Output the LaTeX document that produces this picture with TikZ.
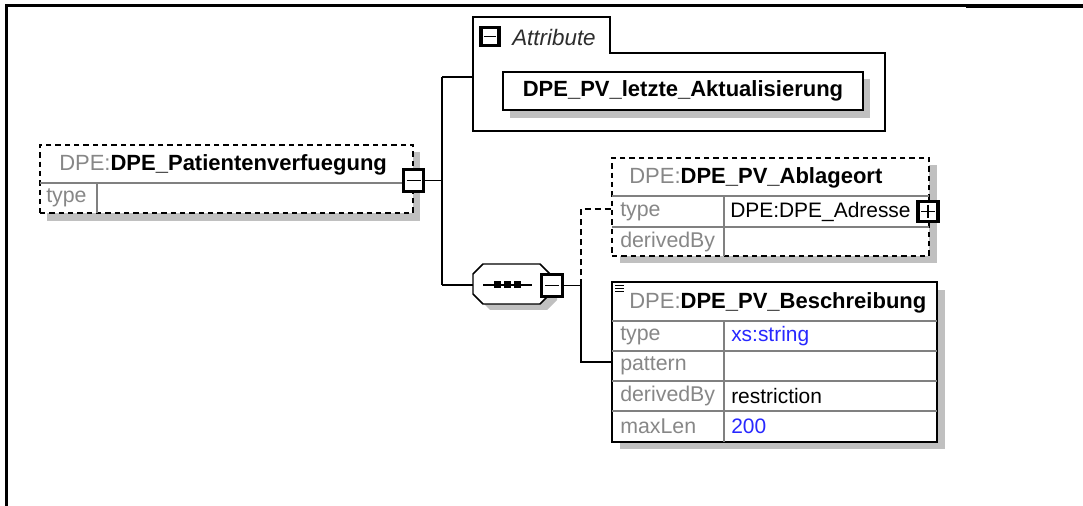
\documentclass[tikz,border=0pt]{standalone}
\usepackage{fontspec}
\setmainfont{Liberation Sans}
\usetikzlibrary{calc}
\definecolor{shadowc}{RGB}{192,192,192}
\definecolor{lblgrey}{RGB}{135,135,135}
\definecolor{sepgrey}{RGB}{128,128,128}
\definecolor{valblue}{RGB}{40,40,255}
\definecolor{attrgrey}{RGB}{45,45,45}
\begin{document}
\begin{tikzpicture}[x=0.75pt,y=-0.75pt,
 box/.style={draw=black,line width=1.1pt,fill=white,inner sep=0pt,outer sep=0pt},
 dbox/.style={box,dash pattern=on 4pt off 3pt},
 sep/.style={draw=sepgrey,line width=1.1pt},
 conn/.style={draw=black,line width=1.4pt},
 dconn/.style={conn,dash pattern=on 4.5pt off 3pt},
 hdr/.style={anchor=west,inner sep=0pt,font=\fontsize{16.5}{19}\selectfont},
 lbl/.style={anchor=west,inner sep=0pt,text=lblgrey,font=\fontsize{16}{19}\selectfont},
 val/.style={anchor=west,inner sep=0pt,font=\fontsize{15.7}{19}\selectfont},
 toggle/.style={draw=black,line width=2.4pt,fill=white,minimum width=15.5pt,minimum height=16.5pt,inner sep=0pt,outer sep=0pt},
 minusbox/.style={toggle,path picture={\draw[line width=1.4pt] ([xshift=2.5pt]path picture bounding box.west) -- ([xshift=-2.5pt]path picture bounding box.east);}},
 plusbox/.style={toggle,path picture={\draw[line width=1.4pt] ([xshift=2.5pt]path picture bounding box.west) -- ([xshift=-2.5pt]path picture bounding box.east);
   \draw[line width=1.4pt] ([yshift=-2.5pt]path picture bounding box.north) -- ([yshift=2.5pt]path picture bounding box.south);}},
]
\useasboundingbox (0,0) rectangle (1083,506);
% frame
\draw[line width=2.25pt] (6.5,506) -- (6.5,6) -- (966,6);
\draw[line width=2.6pt] (966,6) -- (1083,6);

% root element
\fill[shadowc] (47,152) rectangle (420,221);
\node[dbox,minimum width={373*0.75pt},minimum height={68*0.75pt}] (root) at (226.5,179) {};
\draw[sep] (40,183) -- (413,183);
\draw[sep] (97,183) -- (97,213);
\node[hdr] (roott) at (59,165) {\textcolor{lblgrey}{DPE:}\textbf{DPE\_Patientenverfuegung}};
\node[lbl] (roottype) at (46,198) {type};
\node[minusbox] (rootmin) at (413.5,180.5) {};

% attribute group
\draw[line width=1.1pt,fill=white] (473,131) -- (473,17) -- (610,17) -- (610,53) -- (885,53) -- (885,131) -- cycle;
\node[minusbox,minimum width=13.5pt,minimum height=14pt] (attrmin) at (490,36.5) {};
\node[anchor=west,inner sep=0pt,text=attrgrey,font=\fontsize{16.8}{19}\selectfont\itshape] (attrt) at (512,37) {Attribute};
\fill[shadowc] (510,79) rectangle (870,118);
\node[box,minimum width={360*0.75pt},minimum height={38*0.75pt},font=\bfseries\fontsize{16.5}{19}\selectfont] (attr) at (683,91) {DPE\_PV\_letzte\_Aktualisierung};

% trunk connectors
\coordinate (jtop) at (442,77);
\coordinate (jmid) at (442,180.5);
\coordinate (jbot) at (442,285);
\coordinate (agl) at (473,77);
\draw[conn] (rootmin.east) -- (jmid);
\draw[conn] (jtop) -- (jbot);
\draw[conn] (jtop) -- (agl);

% sequence compositor
\fill[shadowc] (480,280) -- (490,270) -- (547,270) -- (557,280) -- (557,300) -- (547,310) -- (490,310) -- (480,300) -- cycle;
\draw[line width=1.1pt,fill=white] (473,274) -- (483,264) -- (540,264) -- (550,274) -- (550,294) -- (540,304) -- (483,304) -- (473,294) -- cycle;
\coordinate (seqw) at (473,285);
\draw[conn] (jbot) -- (seqw);
\draw[line width=1.2pt] (483,285) -- (532,285);
\fill (493.5,281.5) rectangle (500.5,288.5);
\fill (503.5,281.5) rectangle (510.5,288.5);
\fill (513.5,281.5) rectangle (520.5,288.5);
\node[minusbox] (seqmin) at (552,285.5) {};

% Ablageort
\fill[shadowc] (620,165) rectangle (937,263);
\node[dbox,minimum width={317*0.75pt},minimum height={98*0.75pt}] (abl) at (770.5,207) {};
\draw[sep] (612,196) -- (929,196);
\draw[sep] (612,227) -- (929,227);
\draw[sep] (724,196) -- (724,256);
\node[hdr] (ablt) at (629,178) {\textcolor{lblgrey}{DPE:}\textbf{DPE\_PV\_Ablageort}};
\node[lbl] (abltype) at (620,212) {type};
\node[val] (ablval) at (730,212) {DPE:DPE\_Adresse};
\node[lbl] (ablder) at (620,242) {derivedBy};
\node[plusbox,minimum width=15pt,minimum height=15pt] (ablplus) at (928,211.5) {};

% Beschreibung
\fill[shadowc] (620,290) rectangle (945,449);
\node[box,minimum width={325*0.75pt},minimum height={160*0.75pt}] (besch) at (774.5,362) {};
\draw[sep] (612,321) -- (937,321);
\draw[sep] (612,351) -- (937,351);
\draw[sep] (612,381) -- (937,381);
\draw[sep] (612,411) -- (937,411);
\draw[sep] (724,321) -- (724,442);
\draw[line width=0.9pt] (615,285.5) -- (624,285.5) (615,288.5) -- (624,288.5) (615,291.5) -- (624,291.5);
\node[hdr] (bescht) at (629,303) {\textcolor{lblgrey}{DPE:}\textbf{DPE\_PV\_Beschreibung}};
\node[lbl] (beschtype) at (620,336) {type};
\node[val,text=valblue] (beschtypev) at (731,336) {xs:string};
\node[lbl] (beschpat) at (620,366) {pattern};
\node[lbl] (beschder) at (620,396) {derivedBy};
\node[val] (beschderv) at (731,396) {restriction};
\node[lbl] (beschmax) at (620,426) {maxLen};
\node[val,text=valblue] (beschmaxv) at (731,426) {200};

% sequence to children
\coordinate (j2) at (581,285.5);
\coordinate (j2up) at (581,209);
\coordinate (j2dn) at (581,362);
\draw[conn] (seqmin.east) -- (j2) -- (j2dn) -- (besch.west |- j2dn);
\draw[dconn] (j2) -- (j2up) -- (abl.west |- j2up);
\end{tikzpicture}
\end{document}
